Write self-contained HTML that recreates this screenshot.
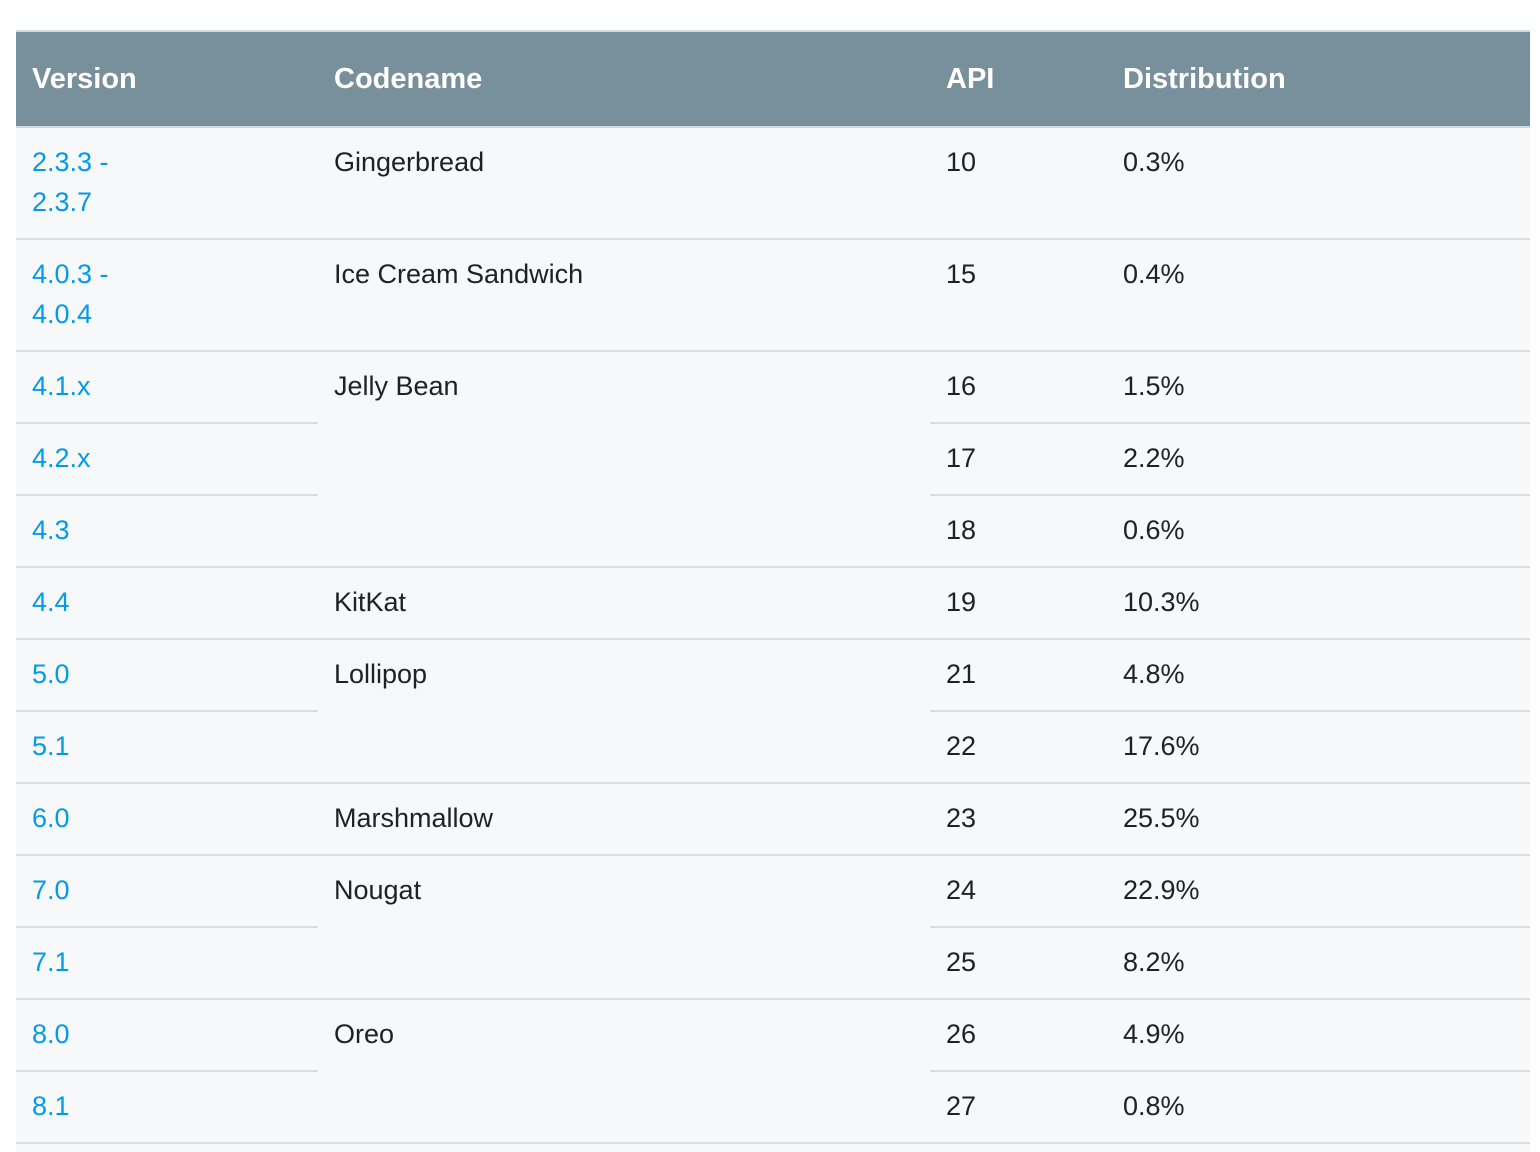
<!DOCTYPE html>
<html><head><meta charset="utf-8"><style>
body{margin:0;width:1540px;height:1138px;background:#fff;overflow:hidden;font-family:"Liberation Sans",sans-serif;font-size:27px;}
#t{position:absolute;left:16px;top:30px;width:1514px;height:1120px;background:#f7f8fa;border-top:2px solid #cfd8dc;}
#hd{position:absolute;left:0;top:0;width:1514px;height:94px;background:#78909c;border-bottom:2px solid #cfd8dc;}
.h{position:absolute;top:0;line-height:94px;color:#fff;font-weight:bold;font-size:29px;}
.c{position:absolute;line-height:40px;color:#212121;}
.v{color:#039be5;}
.ln{position:absolute;height:2px;background:#dadce0;}
</style></head><body>
<div id="t">
<div id="hd">
<div class="h" style="left:16px">Version</div>
<div class="h" style="left:318px">Codename</div>
<div class="h" style="left:930px">API</div>
<div class="h" style="left:1107px">Distribution</div>
</div>
</div>
<script>
const versions=["2.3.3 -<br>2.3.7","4.0.3 -<br>4.0.4","4.1.x","4.2.x","4.3","4.4","5.0","5.1","6.0","7.0","7.1","8.0","8.1"];
const apis=[10,15,16,17,18,19,21,22,23,24,25,26,27];
const dists=["0.3%","0.4%","1.5%","2.2%","0.6%","10.3%","4.8%","17.6%","25.5%","22.9%","8.2%","4.9%","0.8%"];
const codenames=[["Gingerbread",1],["Ice Cream Sandwich",1],["Jelly Bean",3],["KitKat",1],["Lollipop",2],["Marshmallow",1],["Nougat",2],["Oreo",2]];
const t=document.getElementById('t');
const heights=versions.map(v=>v.includes('<br>')?112:72);
const tops=[];let y=96;
heights.forEach(h=>{tops.push(y);y+=h;});
function add(cls,x,yy,html){const d=document.createElement('div');d.className=cls;d.style.left=x+'px';d.style.top=yy+'px';d.innerHTML=html;t.appendChild(d);return d;}
function line(x,yy,w){const d=document.createElement('div');d.className='ln';d.style.left=x+'px';d.style.top=(yy-2)+'px';d.style.width=w+'px';t.appendChild(d);return d;}
versions.forEach((v,i)=>{
 const a=add('c v',16,tops[i]+14,v);
 
 
 const b=add('c',930,tops[i]+14,apis[i]);
 
 
 const c=add('c',1107,tops[i]+14,dists[i]);
 
 
 const l=line(0,tops[i]+heights[i],302);
 
 
 const l2=line(914,tops[i]+heights[i],600);
 
 
});
let idx=0;
codenames.forEach(([n,span])=>{
 const d=add('c',318,tops[idx]+14,n);
 
 
 idx+=span;
 const l=line(302,tops[idx-1]+heights[idx-1],612);
 
 
});
</script>
</body></html>
